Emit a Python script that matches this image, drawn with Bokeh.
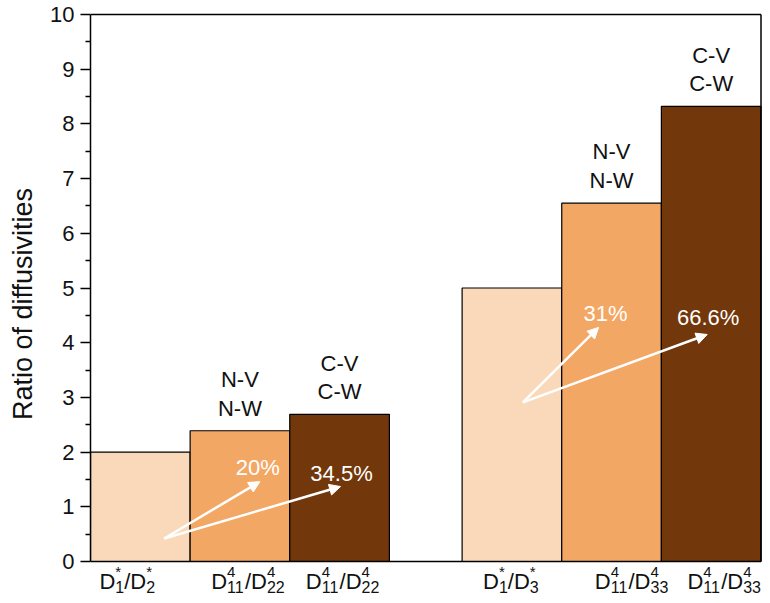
from bokeh.plotting import figure
from bokeh.models import (Range1d, FixedTicker, Arrow, NormalHead,
                          ColumnDataSource)
from bokeh.core.properties import value
from bokeh.embed import file_html
from bokeh.resources import INLINE

# ---------------- data ----------------
groups = ["D2", "D3"]
bar_keys = ["tracer", "N", "C"]
values_g1 = [2.0, 2.39, 2.69]
values_g2 = [5.0, 6.55, 8.32]
bar_colors = ["#FAD9BB", "#F3A765", "#72370B"]
top_labels = ["", "N-V\nN-W", "C-V\nC-W"]
# x tick labels as (main, sup, sub, main, sup, sub)
tick_parts_g1 = [("D", "*", "1", "/D", "*", "2"),
                 ("D", "4", "11", "/D", "4", "22"),
                 ("D", "4", "11", "/D", "4", "22")]
tick_parts_g2 = [("D", "*", "1", "/D", "*", "3"),
                 ("D", "4", "11", "/D", "4", "33"),
                 ("D", "4", "11", "/D", "4", "33")]
pct_g1 = ["20%", "34.5%"]
pct_g2 = ["31%", "66.6%"]
# arrows: start point, ends (data coords)
arrow_start_g1 = (0.74, 0.42)
arrow_ends_g1 = [(1.70, 1.46), (2.51, 1.37)]
arrow_start_g2 = (4.34, 2.91)
arrow_ends_g2 = [(5.10, 4.28), (6.19, 4.15)]
pct_pos_g1 = [(1.68, 1.72), (2.52, 1.61)]
pct_pos_g2 = [(5.17, 4.53), (6.20, 4.46)]
y_ticks = list(range(0, 11))

# ---------------- layout constants ----------------
GAP = 0.73
FONT = "Liberation Sans"
tick_label_dx = [-13, 8, 3, -1, 20, 13]  # px shift of x labels
W_PX, H_PX = 762, 595
LEFT, TOP = 90, 12
PX_PER_Y = 54.7

values = values_g1 + values_g2
lefts = [0, 1, 2, 3 + GAP, 4 + GAP, 5 + GAP]
rights = [l + 1 for l in lefts]
centers = [l + 0.5 for l in lefts]
colors = bar_colors * 2
x_end = rights[-1]

ymax = 10 + 2 / PX_PER_Y
ymin = -(H_PX - TOP - (ymax - 0) * PX_PER_Y) / PX_PER_Y
xmax = x_end * (W_PX - LEFT) / (W_PX - LEFT - 1.5)

p = figure(width=W_PX, height=H_PX, output_backend="svg", toolbar_location=None,
           x_range=Range1d(0, xmax), y_range=Range1d(ymin, ymax),
           min_border_left=LEFT, min_border_right=0, min_border_top=TOP,
           min_border_bottom=0)
p.background_fill_color = "white"
p.border_fill_color = "white"
p.outline_line_color = None
p.xgrid.visible = False
p.ygrid.visible = False
p.xaxis.visible = False

src = ColumnDataSource(dict(left=lefts, right=rights, top=values,
                            bottom=[0] * 6, color=colors))
p.quad(left="left", right="right", top="top", bottom="bottom",
       fill_color="color", line_color="black", line_width=1.2, source=src)

# frame lines: x axis, top border, right border
p.segment(x0=[0, 0, x_end], y0=[0, 10, 0], x1=[x_end, x_end, x_end],
          y1=[0, 10, 10], line_color="black", line_width=1.5)

# labels above bars
lab_src = ColumnDataSource(dict(x=centers, y=values,
                                t=top_labels + top_labels))
p.text(x="x", y="y", text="t", source=lab_src, text_align="center",
       text_baseline="bottom", y_offset=-10, text_font=value(FONT),
       text_font_size="22px", text_color="#111111", text_line_height=1.15)

# arrows
for start, ends in [(arrow_start_g1, arrow_ends_g1), (arrow_start_g2, arrow_ends_g2)]:
    for e in ends:
        p.add_layout(Arrow(end=NormalHead(size=11, fill_color="white",
                                          line_color="white", line_width=1),
                           x_start=start[0], y_start=start[1],
                           x_end=e[0], y_end=e[1],
                           line_color="white", line_width=2.5))

# percent labels
pct_src = ColumnDataSource(dict(x=[q[0] for q in pct_pos_g1 + pct_pos_g2],
                                y=[q[1] for q in pct_pos_g1 + pct_pos_g2],
                                t=pct_g1 + pct_g2))
p.text(x="x", y="y", text="t", source=pct_src, text_align="center",
       text_baseline="middle", text_font=value(FONT), text_font_size="22px",
       text_color="white")

# y axis
p.yaxis.bounds = (0, 10)
p.yaxis.ticker = FixedTicker(ticks=y_ticks,
                             minor_ticks=[t + 0.5 for t in y_ticks[:-1]])
p.yaxis.axis_label = "Ratio of diffusivities"
p.yaxis.axis_label_text_font = FONT
p.yaxis.axis_label_text_font_size = "27px"
p.yaxis.axis_label_text_font_style = "normal"
p.yaxis.axis_label_text_color = "#111111"
p.yaxis.axis_label_standoff = 9
p.yaxis.major_label_text_font = FONT
p.yaxis.major_label_text_font_size = "22px"
p.yaxis.major_label_text_color = "#111111"
p.yaxis.major_label_standoff = 6
p.yaxis.major_tick_out = 10
p.yaxis.major_tick_in = 0
p.yaxis.minor_tick_out = 5
p.yaxis.minor_tick_in = 0
p.yaxis.axis_line_width = 1.5
p.yaxis.axis_line_color = "black"
p.yaxis.major_tick_line_width = 1.5
p.yaxis.minor_tick_line_width = 1.5
p.yaxis.major_tick_line_color = "black"
p.yaxis.minor_tick_line_color = "black"

# composed x tick labels with sub/superscripts
MAIN, SUP, SUB = 22, 15, 16
W = {"D": 0.722, "/": 0.278, "*": 0.389}
def tw(s, size):
    return sum(W.get(c, 0.556) for c in s) * size

y_main = -20 / PX_PER_Y
y_sup = -10 / PX_PER_Y
y_sub = -25 / PX_PER_Y

cols = {"x": [], "y": [], "t": [], "dx": [], "size": []}
for i, parts in enumerate(tick_parts_g1 + tick_parts_g2):
    m1, sp1, sb1, m2, sp2, sb2 = parts
    w1 = tw(m1, MAIN)
    s1 = max(tw(sp1, SUP), tw(sb1, SUB))
    w2 = tw(m2, MAIN)
    s2 = max(tw(sp2, SUP), tw(sb2, SUB))
    total = w1 + s1 + w2 + s2
    x0 = -total / 2 + tick_label_dx[i]
    pieces = [(m1, MAIN, y_main, x0),
              (sp1, SUP, y_sup, x0 + w1),
              (sb1, SUB, y_sub, x0 + w1),
              (m2, MAIN, y_main, x0 + w1 + s1),
              (sp2, SUP, y_sup, x0 + w1 + s1 + w2),
              (sb2, SUB, y_sub, x0 + w1 + s1 + w2)]
    for txt, size, yy, dx in pieces:
        cols["x"].append(centers[i])
        cols["y"].append(yy)
        cols["t"].append(txt)
        cols["dx"].append(dx)
        cols["size"].append(f"{size}px")

tick_src = ColumnDataSource(cols)
p.text(x="x", y="y", text="t", x_offset="dx", text_font_size="size",
       source=tick_src, text_align="left", text_baseline="alphabetic",
       text_font=value(FONT), text_color="#111111")

open("out.html", "w").write(file_html(p, INLINE))
